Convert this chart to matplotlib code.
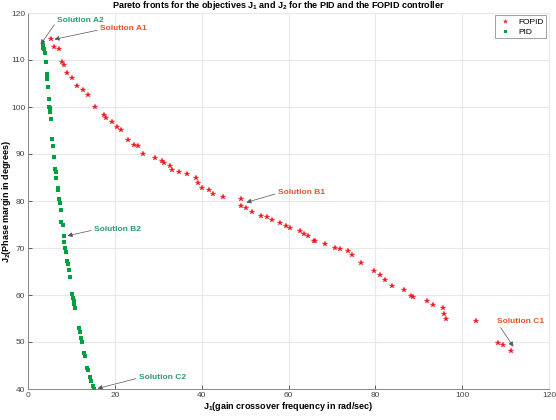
import matplotlib
matplotlib.use("Agg")
import matplotlib.pyplot as plt

plt.rcParams['font.family'] = ['Liberation Sans', 'DejaVu Sans']
plt.rcParams['mathtext.fontset'] = 'custom'
plt.rcParams['mathtext.rm'] = 'Liberation Sans:bold'
plt.rcParams['mathtext.it'] = 'Liberation Sans:bold'
plt.rcParams['mathtext.bf'] = 'Liberation Sans:bold'

fopid_x = [5.3, 6.0, 7.2, 7.8, 8.4, 9.0, 10.2, 11.4, 12.6, 13.9, 15.5, 17.5, 17.9, 19.3, 20.5, 21.5,
           23.1, 24.3, 25.4, 26.6, 29.2, 30.9, 31.3, 32.6, 33.2, 34.8, 36.7, 38.7, 39.1, 40.0, 41.8,
           42.6, 44.8, 49.0, 49.0, 50.3, 51.6, 53.6, 55.1, 56.3, 58.0, 59.5, 60.4, 62.6, 63.5, 64.4,
           65.8, 66.2, 68.4, 70.8, 71.9, 73.6, 74.6, 76.6, 79.7, 81.0, 82.3, 83.9, 86.5, 88.3, 88.7,
           91.8, 93.2, 95.6, 95.9, 96.2, 103.2, 108.3, 109.5, 111.3]
fopid_y = [114.4, 112.8, 112.3, 109.6, 109.0, 107.2, 106.1, 104.4, 103.7, 102.5, 99.9, 98.2, 97.7,
           96.9, 95.7, 95.1, 93.0, 92.0, 91.6, 89.9, 89.1, 88.5, 88.0, 87.5, 86.7, 86.1, 85.7, 84.8,
           83.8, 82.8, 82.4, 81.4, 80.9, 80.5, 79.0, 78.5, 77.7, 76.9, 76.6, 76.0, 75.3, 74.7, 74.3,
           73.7, 73.0, 72.5, 71.5, 71.4, 70.9, 69.9, 69.7, 69.3, 68.5, 66.9, 65.15, 64.3, 63.1, 61.9,
           61.1, 59.8, 59.5, 58.8, 57.9, 57.3, 55.9, 55.0, 54.5, 49.8, 49.4, 48.1]

pid_x = [3.4, 3.5, 3.7, 4.0, 4.1, 4.3, 4.4, 4.4, 4.5, 4.8, 4.8, 5.0, 5.1, 5.3, 5.5, 5.8, 6.0, 6.2,
         6.4, 6.5, 6.8, 7.0, 7.1, 7.4, 7.5, 7.7, 8.0, 8.2, 8.4, 8.6, 8.7, 9.0, 9.2, 9.4, 9.7, 10.2,
         10.3, 10.5, 10.6, 10.9, 11.8, 12.0, 12.3, 12.5, 12.9, 13.2, 13.7, 13.9, 14.3, 14.6, 14.9, 15.1]
pid_y = [113.1, 112.6, 112.3, 111.4, 109.6, 107.1, 106.6, 105.9, 104.2, 101.7, 100.0, 99.8, 99.0,
         97.4, 93.1, 91.8, 89.4, 86.8, 86.1, 85.0, 82.8, 82.4, 80.4, 79.6, 78.0, 75.6, 74.8, 72.6,
         71.3, 70.0, 69.1, 67.3, 66.5, 65.4, 63.8, 60.2, 59.4, 58.7, 58.0, 57.3, 53.0, 52.2, 50.8,
         49.9, 47.7, 47.1, 44.5, 44.0, 42.6, 41.8, 40.6, 40.1]

# annotations: label, target point (data), text position (data)
ann_labels = ["Solution A2", "Solution A1", "Solution B2", "Solution C2", "Solution B1", "Solution C1"]
ann_xy = [(2.9, 113.3), (6.1, 114.4), (9.1, 72.6), (16.0, 40.1), (50.3, 79.7), (111.8, 49.0)]
ann_text = [(6.7, 118.5), (16.6, 116.6), (15.2, 74.0), (25.5, 42.5), (57.5, 81.8), (108.0, 54.4)]
ann_colors = ["#2f9a6c", "#e0562c", "#2f9a6c", "#2f9a6c", "#e0562c", "#e0562c"]

fig = plt.figure(figsize=(5.56, 4.2), dpi=100)
ax = fig.add_axes([28/556, 1-389/420, (549-28)/556, (389-13)/420])

ax.plot(fopid_x, fopid_y, linestyle='none', marker='*', color='#ee1c24', markersize=4,
        markeredgewidth=0.2, label='FOPID', zorder=3)
ax.plot(pid_x, pid_y, linestyle='none', marker='s', color='#00a040', markersize=2.7,
        markeredgewidth=0, label='PID', zorder=3)

for lab, xy, xt, c in zip(ann_labels, ann_xy, ann_text, ann_colors):
    ax.annotate(lab, xy=xy, xytext=xt, color=c, fontsize=6, fontweight='bold',
                ha='left', va='center',
                arrowprops=dict(arrowstyle='-|>', color='#555555', lw=0.5,
                                mutation_scale=7, shrinkA=0, shrinkB=0,
                                relpos=(0, 0.4)))

ax.set_xlim(0, 120)
ax.set_ylim(40, 120)
ax.set_xticks(range(0, 121, 20))
ax.set_yticks(range(40, 121, 10))
ax.grid(True, color='#e8e8e8', linewidth=0.8)
ax.set_axisbelow(True)
ax.tick_params(direction='in', length=3, labelsize=6, colors='#444444', width=0.6, pad=2)
for s in ['left', 'bottom']:
    ax.spines[s].set_color('#888888')
    ax.spines[s].set_linewidth(0.7)
for s in ['top', 'right']:
    ax.spines[s].set_color('#e8e8e8')
    ax.spines[s].set_linewidth(0.7)

ax.set_xlabel(r'J$_1$(gain crossover frequency in rad/sec)', fontsize=6.5, fontweight='bold', labelpad=1)
ax.set_ylabel(r'J$_2$(Phase margin in degrees)', fontsize=6.5, fontweight='bold')
ax.yaxis.set_label_coords(-0.028, 0.5)

fig.text(0.5, 1-7.5/420, r'Pareto fronts for the objectives J$_1$ and J$_2$ for the PID and the FOPID controller',
         ha='center', va='baseline', fontsize=6.5, fontweight='bold')

leg = ax.legend(loc='upper right', fontsize=6, frameon=True, fancybox=False,
                edgecolor='#888888', borderpad=0.35, handletextpad=0.8, labelspacing=0.25,
                handlelength=1.6, bbox_to_anchor=(0.995, 0.995), borderaxespad=0.0,
                markerscale=0.8)
leg.get_frame().set_linewidth(0.7)

fig.savefig('out.png', dpi=100)
